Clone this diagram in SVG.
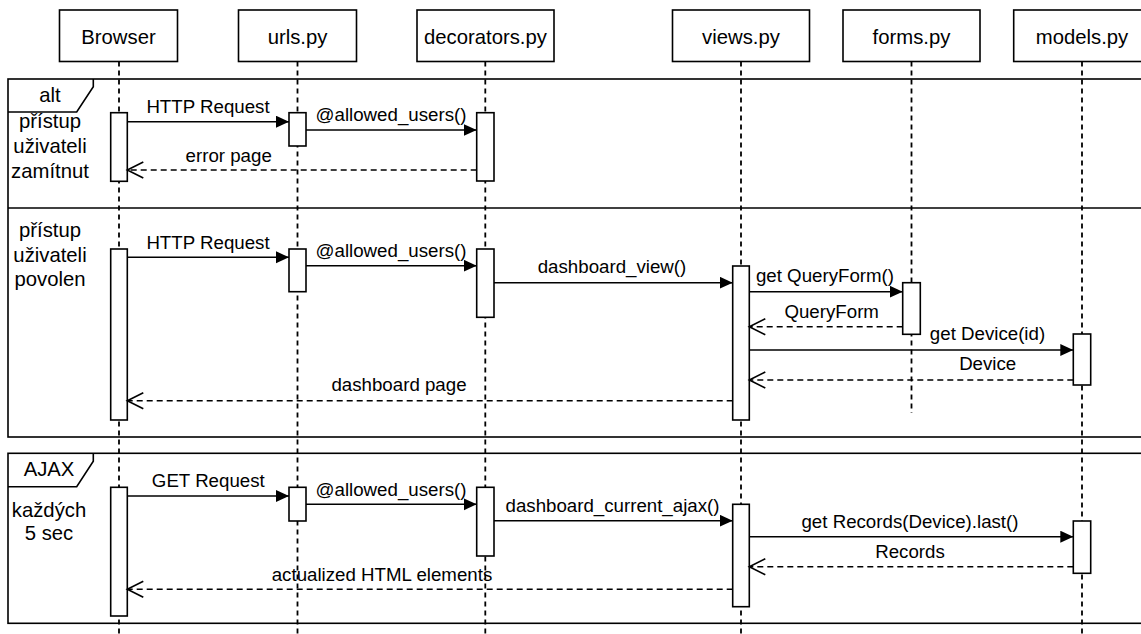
<svg xmlns="http://www.w3.org/2000/svg" width="1141" height="634" viewBox="0 0 1141 634">
  <style>
    text { font-family: "Liberation Sans", Arial, sans-serif; fill: #000; }
    .hdr { font-size: 20.3px; text-anchor: middle; }
    .lbl { font-size: 18.7px; text-anchor: middle; }
    .box { fill: #fff; stroke: #000; stroke-width: 1.6; }
    .frame { fill: none; stroke: #000; stroke-width: 1.6; }
    .life { fill: none; stroke: #000; stroke-width: 1.8; stroke-dasharray: 5 4; }
    .act { fill: #fff; stroke: #000; stroke-width: 1.6; }
    .call { fill: none; stroke: #000; stroke-width: 1.6; marker-end: url(#solid); }
    .ret { fill: none; stroke: #000; stroke-width: 1.6; stroke-dasharray: 6 4; marker-end: url(#open); }
  </style>
  <defs>
    <marker id="solid" markerUnits="userSpaceOnUse" markerWidth="14" markerHeight="14" refX="13" refY="6" orient="auto">
      <path d="M0,0 L13,6 L0,12 z" fill="#000"/>
    </marker>
    <marker id="open" markerUnits="userSpaceOnUse" markerWidth="20" markerHeight="20" refX="17" refY="9" orient="auto">
      <path d="M1,1 L17,9 L1,17" fill="none" stroke="#000" stroke-width="1.6" stroke-dasharray="none"/>
    </marker>
  </defs>

  <rect width="1141" height="634" fill="#fff"/>

  <!-- combined fragments -->
  <g id="frame-alt">
    <rect class="frame" x="8" y="79" width="1145" height="358"/>
    <line class="frame" x1="8" y1="208" x2="1153" y2="208"/>
    <path class="frame" d="M8,112 L76.7,112 L93.3,86.7 L93.3,79"/>
    <text class="hdr" x="50" y="102">alt</text>
    <text class="hdr" x="50" y="128">přístup</text>
    <text class="hdr" x="50" y="153">uživateli</text>
    <text class="hdr" x="50" y="178">zamítnut</text>
    <text class="hdr" x="50" y="237">přístup</text>
    <text class="hdr" x="50" y="261.5">uživateli</text>
    <text class="hdr" x="50" y="286">povolen</text>
  </g>
  <g id="frame-ajax">
    <rect class="frame" x="8" y="453.3" width="1145" height="170"/>
    <path class="frame" d="M8,486.7 L76.7,486.7 L93.3,461.3 L93.3,453.3"/>
    <text class="hdr" x="49" y="476">AJAX</text>
    <text class="hdr" x="49" y="517">každých</text>
    <text class="hdr" x="49" y="540">5 sec</text>
  </g>

  <!-- participants with lifelines and activations -->
  <g id="browser">
    <rect class="box" x="59.5" y="10" width="118" height="51.5"/>
    <text class="hdr" x="118.5" y="44">Browser</text>
    <line class="life" x1="119" y1="61.5" x2="119" y2="634"/>
    <rect class="act" x="110.7" y="112.7" width="16.6" height="68.6"/>
    <rect class="act" x="110.7" y="249" width="16.6" height="171"/>
    <rect class="act" x="110.7" y="487.3" width="16.6" height="128.7"/>
  </g>
  <g id="urls">
    <rect class="box" x="238.5" y="10" width="118" height="51.5"/>
    <text class="hdr" x="297.5" y="44">urls.py</text>
    <line class="life" x1="297.5" y1="61.5" x2="297.5" y2="634"/>
    <rect class="act" x="289" y="112.7" width="17" height="33.3"/>
    <rect class="act" x="289" y="249" width="17" height="42.7"/>
    <rect class="act" x="289" y="487.3" width="17" height="33.7"/>
  </g>
  <g id="decorators">
    <rect class="box" x="417" y="10" width="137" height="51.5"/>
    <text class="hdr" x="485.5" y="44">decorators.py</text>
    <line class="life" x1="485.3" y1="61.5" x2="485.3" y2="634"/>
    <rect class="act" x="476.7" y="112.7" width="17.3" height="68.3"/>
    <rect class="act" x="476.7" y="249" width="17.3" height="68.3"/>
    <rect class="act" x="476.7" y="487.3" width="17.3" height="68.7"/>
  </g>
  <g id="views">
    <rect class="box" x="672.5" y="10" width="137" height="51.5"/>
    <text class="hdr" x="741" y="44">views.py</text>
    <line class="life" x1="741" y1="61.5" x2="741" y2="634"/>
    <rect class="act" x="732.7" y="266" width="16.6" height="154"/>
    <rect class="act" x="732.7" y="504.3" width="16.6" height="102.4"/>
  </g>
  <g id="forms">
    <rect class="box" x="843" y="10" width="137" height="51.5"/>
    <text class="hdr" x="911.5" y="44">forms.py</text>
    <line class="life" x1="911.5" y1="61.5" x2="911.5" y2="413"/>
    <rect class="act" x="902.7" y="282.7" width="17.6" height="51.6"/>
  </g>
  <g id="models">
    <rect class="box" x="1013.7" y="10" width="137" height="51.5"/>
    <text class="hdr" x="1082" y="44">models.py</text>
    <line class="life" x1="1082" y1="61.5" x2="1082" y2="634"/>
    <rect class="act" x="1073.3" y="334" width="17.4" height="51"/>
    <rect class="act" x="1073.3" y="521" width="17.4" height="52.3"/>
  </g>

  <!-- messages -->
  <g id="connectors">
    <line class="call" x1="127.3" y1="121.7" x2="289" y2="121.7"/>
    <text class="lbl" x="208" y="113">HTTP Request</text>
    <line class="call" x1="306" y1="130" x2="476.7" y2="130"/>
    <text class="lbl" x="391" y="121">@allowed_users()</text>
    <line class="ret" x1="476.7" y1="170" x2="127.3" y2="170"/>
    <text class="lbl" x="228.7" y="162">error page</text>

    <line class="call" x1="127.3" y1="257.3" x2="289" y2="257.3"/>
    <text class="lbl" x="208" y="249">HTTP Request</text>
    <line class="call" x1="306" y1="265.7" x2="476.7" y2="265.7"/>
    <text class="lbl" x="391" y="257">@allowed_users()</text>
    <line class="call" x1="494" y1="282.7" x2="732.7" y2="282.7"/>
    <text class="lbl" x="612" y="273">dashboard_view()</text>
    <line class="call" x1="749.3" y1="291.7" x2="902.7" y2="291.7"/>
    <text class="lbl" x="825" y="282">get QueryForm()</text>
    <line class="ret" x1="902.7" y1="326.7" x2="749.3" y2="326.7"/>
    <text class="lbl" x="831.7" y="318">QueryForm</text>
    <line class="call" x1="749.3" y1="350" x2="1073.3" y2="350"/>
    <text class="lbl" x="987.5" y="340">get Device(id)</text>
    <line class="ret" x1="1073.3" y1="380" x2="749.3" y2="380"/>
    <text class="lbl" x="987.7" y="370">Device</text>
    <line class="ret" x1="732.7" y1="400.7" x2="127.3" y2="400.7"/>
    <text class="lbl" x="399" y="391">dashboard page</text>

    <line class="call" x1="127.3" y1="496" x2="289" y2="496"/>
    <text class="lbl" x="208.3" y="487">GET Request</text>
    <line class="call" x1="306" y1="504.3" x2="476.7" y2="504.3"/>
    <text class="lbl" x="391" y="495.5">@allowed_users()</text>
    <line class="call" x1="494" y1="520.7" x2="732.7" y2="520.7"/>
    <text class="lbl" x="612.5" y="512">dashboard_current_ajax()</text>
    <line class="call" x1="749.3" y1="536.7" x2="1073.3" y2="536.7"/>
    <text class="lbl" x="910" y="528">get Records(Device).last()</text>
    <line class="ret" x1="1073.3" y1="566.7" x2="749.3" y2="566.7"/>
    <text class="lbl" x="910" y="557.5">Records</text>
    <line class="ret" x1="732.7" y1="589.3" x2="127.3" y2="589.3"/>
    <text class="lbl" x="382" y="581">actualized HTML elements</text>
  </g>
</svg>
